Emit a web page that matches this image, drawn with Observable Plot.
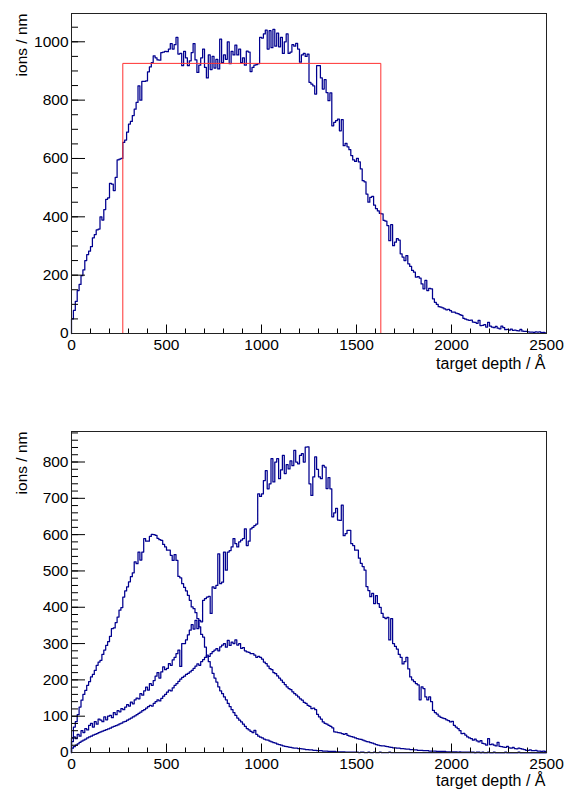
<!DOCTYPE html>
<html><head><meta charset="utf-8">
<script src="https://cdn.jsdelivr.net/npm/d3@7"></script>
<script src="https://cdn.jsdelivr.net/npm/@observablehq/plot@0.6"></script>
<style>
html,body{margin:0;padding:0;background:#fff;}
#chart{width:571px;height:790px;}
#chart svg{display:block;}
</style></head><body><div id="chart"></div>
<script>
const binWidth = 10;
const xMax = 2500;
const xLabel = "target depth / Å";
const yLabel = "ions / nm";

// top panel: total implantation profile (10 Å bins)
const topValues = [
  50, 79, 110, 147, 168, 198, 218, 250, 270, 282,
  298, 328, 339, 355, 358, 400, 389, 425, 460, 465,
  515, 512, 490, 535, 595, 598, 600, 655, 663, 690,
  718, 727, 747, 769, 792, 849, 800, 864, 864, 866,
  897, 914, 929, 952, 945, 938, 937, 963, 965, 967,
  966, 975, 994, 975, 990, 1015, 958, 960, 918, 967,
  945, 918, 935, 963, 994, 938, 895, 920, 945, 975,
  912, 876, 955, 905, 950, 910, 940, 907, 1009, 929,
  955, 940, 1000, 925, 967, 955, 989, 955, 975, 929,
  945, 920, 968, 965, 898, 912, 920, 922, 925, 1015,
  1013, 1027, 1040, 975, 1038, 980, 1043, 985, 1030, 983,
  1015, 960, 1000, 1027, 960, 965, 990, 985, 995, 975,
  930, 955, 960, 950, 958, 861, 855, 849, 821, 918,
  918, 876, 838, 870, 826, 798, 825, 712, 724, 730,
  735, 695, 733, 644, 652, 640, 630, 610, 595, 590,
  600, 588, 564, 524, 520, 478, 450, 467, 470, 440,
  428, 420, 412, 410, 388, 385, 370, 318, 373, 301,
  313, 325, 320, 273, 262, 250, 267, 239, 230, 216,
  210, 193, 195, 190, 170, 153, 182, 147, 155, 153,
  119, 107, 100, 92, 90, 88, 84, 81, 83, 78,
  73, 73, 70, 68, 65, 62, 52, 49, 47, 45,
  46, 39, 38, 35, 45, 27, 28, 30, 22, 38,
  25, 22, 20, 24, 18, 16, 25, 20, 13, 14,
  12, 15, 11, 12, 10, 9, 14, 8, 7, 7,
  6, 5, 5, 4, 6, 5, 6, 3, 4, 2
];
// red target box (depth, ions/nm)
const redBoxX = [270, 270, 1628, 1628];
const redBoxY = [0, 926, 926, 0];

// bottom panel: three component profiles
const seriesA = [
  40, 70, 85, 104, 125, 144, 160, 171, 185, 195,
  208, 215, 226, 240, 249, 254, 270, 282, 295, 305,
  320, 341, 343, 358, 373, 392, 399, 428, 445, 456,
  470, 484, 495, 525, 520, 552, 530, 552, 589, 582,
  582, 595, 601, 600, 598, 590, 586, 584, 573, 566,
  557, 557, 543, 529, 545, 529, 485, 481, 465, 455,
  445, 433, 419, 401, 396, 385, 369, 346, 325, 318,
  290, 263, 250, 235, 218, 205, 194, 181, 170, 162,
  153, 145, 135, 126, 118, 110, 102, 95, 89, 84,
  78, 72, 66, 62, 58, 55, 61, 50, 45, 42,
  40, 37, 35, 34, 31, 29, 27, 26, 23, 22,
  20, 18, 17, 16, 15, 14, 13, 12, 12, 11,
  11, 10, 9, 8, 8, 7, 7, 6, 6, 5,
  5, 5, 4, 4, 4, 3, 3, 3, 3, 2,
  2, 2, 2, 2, 1, 1, 1, 1, 1, 1,
  1, 0, 1, 1, 0, 0, 1, 0, 0, 1,
  0, 0, 1, 0, 0, 0, 0, 1, 0, 0,
  0, 0, 0, 0, 0, 0, 0, 0, 0, 0,
  0, 0, 0, 0, 0, 0, 0, 0, 0, 0,
  0, 0, 0, 0, 0, 0, 0, 0, 0, 0,
  0, 0, 0, 0, 0, 0, 0, 0, 0, 0,
  0, 0, 0, 0, 0, 0, 0, 0, 0, 0,
  0, 0, 0, 0, 0, 0, 0, 0, 0, 0,
  0, 0, 0, 0, 0, 0, 0, 0, 0, 0,
  0, 0, 0, 0, 0, 0, 0, 0, 0, 0
];
const seriesB = [
  12, 16, 20, 24, 28, 31, 34, 37, 40, 43,
  45, 48, 50, 52, 55, 57, 59, 61, 63, 65,
  67, 70, 72, 74, 76, 79, 81, 84, 86, 89,
  92, 95, 98, 101, 104, 108, 111, 115, 118, 122,
  126, 130, 128, 135, 140, 145, 142, 149, 155, 160,
  166, 172, 170, 178, 185, 190, 196, 202, 207, 210,
  215, 218, 222, 226, 232, 238, 244, 240, 250, 256,
  262, 268, 265, 272, 278, 282, 286, 280, 291, 296,
  300, 290, 309, 295, 304, 300, 310, 296, 300, 287,
  289, 280, 277, 276, 272, 272, 268, 262, 265, 262,
  257, 249, 245, 238, 231, 228, 220, 217, 211, 205,
  199, 193, 187, 181, 176, 173, 167, 162, 158, 153,
  148, 144, 138, 135, 130, 127, 121, 122, 118, 105,
  98, 92, 84, 80, 78, 75, 72, 68, 57, 56,
  55, 54, 52, 50, 52, 47, 45, 44, 42, 40,
  38, 37, 36, 34, 32, 30, 29, 27, 26, 24,
  22, 20, 19, 18, 18, 17, 16, 15, 14, 13,
  13, 12, 12, 11, 11, 10, 9, 9, 8, 8,
  7, 7, 6, 6, 6, 5, 5, 5, 4, 4,
  4, 4, 3, 3, 3, 3, 3, 2, 2, 2,
  2, 2, 2, 1, 2, 1, 1, 1, 1, 1,
  1, 1, 0, 1, 1, 0, 1, 0, 0, 1,
  0, 0, 1, 0, 0, 0, 0, 0, 1, 0,
  0, 0, 0, 0, 0, 1, 0, 0, 0, 0,
  0, 0, 0, 0, 0, 0, 0, 0, 0, 0
];
const seriesC = [
  30, 43, 38, 50, 45, 60, 55, 66, 62, 75,
  80, 70, 85, 78, 92, 89, 85, 98, 90, 100,
  102, 96, 110, 104, 115, 112, 121, 118, 125, 132,
  128, 139, 134, 145, 150, 148, 162, 158, 170, 180,
  172, 190, 185, 198, 210, 220, 205, 222, 236, 228,
  232, 245, 240, 255, 262, 272, 282, 237, 300, 300,
  310, 324, 337, 352, 340, 364, 341, 364, 360, 419,
  424, 428, 430, 383, 456, 452, 460, 547, 465, 469,
  552, 502, 552, 556, 566, 589, 575, 566, 580, 585,
  589, 616, 570, 582, 616, 620, 625, 629, 712, 705,
  712, 749, 776, 726, 740, 809, 745, 800, 809, 754,
  778, 818, 768, 793, 781, 803, 790, 832, 800, 795,
  818, 823, 800, 841, 842, 740, 708, 759, 814, 780,
  759, 754, 791, 786, 727, 757, 726, 649, 660, 672,
  640, 639, 681, 597, 603, 612, 612, 575, 570, 557,
  557, 535, 521, 512, 502, 457, 446, 429, 438, 410,
  432, 410, 400, 383, 372, 369, 372, 310, 369, 300,
  292, 285, 270, 262, 244, 250, 262, 230, 208, 200,
  195, 190, 186, 145, 181, 176, 153, 145, 153, 140,
  116, 110, 106, 100, 97, 95, 93, 90, 88, 84,
  86, 75, 70, 66, 60, 52, 53, 48, 43, 40,
  38, 34, 37, 32, 29, 33, 25, 24, 20, 38,
  22, 23, 20, 18, 28, 17, 16, 15, 14, 17,
  13, 12, 14, 11, 10, 12, 11, 9, 8, 6,
  6, 7, 5, 5, 6, 4, 4, 3, 4, 3
];

const xMajorTicks = [0, 500, 1000, 1500, 2000, 2500];
const xMinorTicks = d3.range(0, 2501, 100);
const topYMajor = [0, 200, 400, 600, 800, 1000];
const topYMinor = d3.range(0, 1051, 50);
const botYMajor = [0, 100, 200, 300, 400, 500, 600, 700, 800];
const botYMinor = d3.range(0, 881, 20);

function histPoints(values) {
  const pts = [{x: 0, y: 0}];
  values.forEach((v, i) => pts.push({x: i * binWidth, y: v}));
  pts.push({x: values.length * binWidth, y: values[values.length - 1]});
  return pts;
}

const FONT = "'Liberation Sans', Arial, Helvetica, sans-serif";

function panel({series, yMax, yMajor, yMinor, marginTop, marginBottom, extra = [], labelDy}) {
  const W = 571, H = 395, mL = 71, mR = 25;
  const innerW = W - mL - mR;
  const innerH = H - marginTop - marginBottom;
  return Plot.plot({
    width: W, height: H,
    marginLeft: mL, marginRight: mR, marginTop, marginBottom,
    style: {fontFamily: FONT, fontSize: "15.5px", background: "white", color: "black"},
    x: {domain: [0, xMax]},
    y: {domain: [0, yMax]},
    marks: [
      ...series.map(vals => Plot.line(histPoints(vals), {x: "x", y: "y", curve: "step-after", stroke: "#00008f", strokeWidth: 1.25})),
      ...extra,
      Plot.ruleY(yMinor, {insetRight: innerW - 7, stroke: "black"}),
      Plot.ruleY(yMajor, {insetRight: innerW - 14, stroke: "black"}),
      Plot.ruleX(xMinorTicks, {insetTop: innerH - 4.5, stroke: "black"}),
      Plot.ruleX(xMajorTicks, {insetTop: innerH - 8.5, stroke: "black"}),
      Plot.frame({stroke: "#222"}),
      Plot.axisY({ticks: yMajor, tickFormat: d => String(d), tickSize: 0, tickPadding: 3, fontSize: 15.5, label: null}),
      Plot.axisX({ticks: xMajorTicks, tickFormat: d => String(d), tickSize: 0, tickPadding: 5, fontSize: 15.5, label: null}),
      Plot.text([yLabel], {text: d => d, frameAnchor: "top-left", rotate: -90, textAnchor: "end", lineAnchor: "bottom", dx: -44.5, fontSize: 15.5}),
      Plot.text([xLabel], {text: d => d, frameAnchor: "bottom-right", textAnchor: "end", lineAnchor: "bottom", dx: -1, dy: labelDy, fontSize: 16})
    ]
  });
}

const redBox = redBoxX.map((x, i) => ({x, y: redBoxY[i]}));

const topPanel = panel({
  series: [topValues], yMax: 1097, yMajor: topYMajor, yMinor: topYMinor,
  marginTop: 13, marginBottom: 62, labelDy: 35,
  extra: [Plot.line(redBox, {x: "x", y: "y", stroke: "#ff3030", strokeWidth: 1})]
});
const bottomPanel = panel({
  series: [seriesA, seriesB, seriesC], yMax: 884, yMajor: botYMajor, yMinor: botYMinor,
  marginTop: 36, marginBottom: 38, labelDy: 33
});
document.getElementById("chart").append(topPanel, bottomPanel);
</script>
</body></html>
